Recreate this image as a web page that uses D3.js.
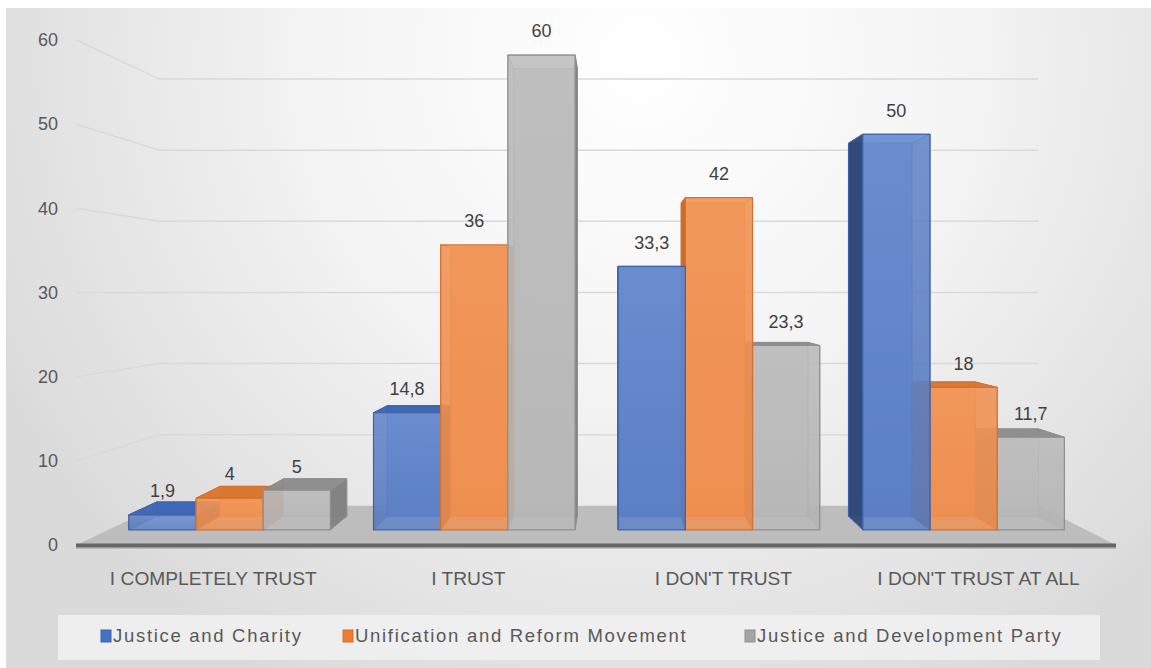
<!DOCTYPE html>
<html><head><meta charset="utf-8">
<script src="https://cdn.jsdelivr.net/npm/d3@7"></script>
<style>body{margin:0;background:#fff;} svg{display:block;}</style>
</head><body>
<svg id="chart" width="1151" height="668"></svg>
<script>
// ---- data ----
const categories = ["I COMPLETELY TRUST", "I TRUST", "I DON'T TRUST", "I DON'T TRUST AT ALL"];
const seriesNames = ["Justice and Charity", "Unification and Reform Movement", "Justice and Development Party"];
const justiceCharity = [1.9, 14.8, 33.3, 50];
const unificationReform = [4, 36, 42, 18];
const justiceDevelopment = [5, 60, 23.3, 11.7];
const yTicks = [0, 10, 20, 30, 40, 50, 60];
const seriesValues = [justiceCharity, unificationReform, justiceDevelopment];

const palette = [
  {front:"#5b7fc6", frontTop:"#6d90d3", side:"#2d4775", top:"#3d66b6", back:"#4c71ba", stroke:"#3e62a8", swatch:"#4472c4"},
  {front:"#f0904f", frontTop:"#f49a5c", side:"#c9672a", top:"#d9752f", back:"#e2803f", stroke:"#d4712f", swatch:"#ed7d31"},
  {front:"#b9b9b9", frontTop:"#c2c2c2", side:"#7f7f7f", top:"#8c8c8c", back:"#a9a9a9", stroke:"#8f8f8f", swatch:"#a5a5a5"}
];

const svg = d3.select("#chart");
const W = 1151, H = 668;

// background
const defs = svg.append("defs");
const rg = defs.append("radialGradient").attr("id","bg").attr("gradientUnits","userSpaceOnUse")
  .attr("cx",640).attr("cy",60).attr("r",720);
rg.append("stop").attr("offset",0).attr("stop-color","#ffffff");
rg.append("stop").attr("offset",0.45).attr("stop-color","#f4f4f4");
rg.append("stop").attr("offset",1).attr("stop-color","#dadada");
svg.append("rect").attr("x",6).attr("y",8).attr("width",W-6).attr("height",H-8).attr("fill","url(#bg)");

palette.forEach((p,i)=>{
  const lg = defs.append("linearGradient").attr("id","fg"+i).attr("x1",0).attr("y1",0).attr("x2",0).attr("y2",1);
  lg.append("stop").attr("offset",0).attr("stop-color",p.frontTop);
  lg.append("stop").attr("offset",1).attr("stop-color",p.front);
});

// ---- scales & projection ----
const VP = {x: 614, y: 292};
const S_FRONT = 1, S_BACK = 0.845, B_FRONT = 0.94, B_BACK = 0.886;
const x0 = d3.scaleBand().domain(categories).range([75, 1116]).paddingInner(0.176).paddingOuter(0.088);
const x1 = d3.scaleBand().domain(seriesNames).range([0, x0.bandwidth()]);
const y = d3.scaleLinear().domain([0, 60]).range([545, 40]);
const proj = (X, Y, s) => [VP.x + s*(X - VP.x), VP.y + s*(Y - VP.y)];
const poly = pts => "M" + pts.map(p => p[0].toFixed(2)+","+p[1].toFixed(2)).join("L") + "Z";

const XL = 76, XR = 1116;

// gridlines (side wall + back wall)
const grid = svg.append("g");
yTicks.filter(t => t > 0).forEach(t => {
  const a = proj(XL, y(t), S_FRONT), b = proj(XL, y(t), S_BACK), c = proj(XR, y(t), S_BACK);
  grid.append("path").attr("d", `M${a[0]},${a[1]}L${b[0]},${b[1]}L${c[0]},${c[1]}`)
    .attr("fill","none").attr("stroke","#d9d9d9").attr("stroke-width",1.5);
});

// y axis labels
svg.append("g").selectAll("text").data(yTicks).join("text")
  .attr("x", 58).attr("y", d => y(d)).attr("dy","0.35em")
  .attr("text-anchor","end").attr("font-family","Liberation Sans, Arial, sans-serif")
  .attr("font-size",18).attr("fill","#595959").text(d => d);

// floor
svg.append("path").attr("d", poly([proj(XL,y(0),S_FRONT), proj(XR,y(0),S_FRONT), proj(XR,y(0),S_BACK), proj(XL,y(0),S_BACK)]))
  .attr("fill","#bdbdbd");
svg.append("rect").attr("x",XL).attr("y",y(0)-1.5).attr("width",XR-XL).attr("height",3.5).attr("fill","#666666");
svg.append("rect").attr("x",XL).attr("y",y(0)+2).attr("width",XR-XL).attr("height",1.5).attr("fill","#9a9a9a");

// ---- bars ----
const bars = [];
categories.forEach((c, ci) => {
  seriesNames.forEach((s, si) => {
    const X0 = x0(c) + x1(s), X1 = X0 + x1.bandwidth();
    bars.push({ci, si, v: seriesValues[si][ci], X0, X1, dist: Math.abs((X0+X1)/2 - VP.x)});
  });
});
bars.sort((a,b) => b.dist - a.dist);

const barG = svg.append("g");
bars.forEach(b => {
  const p = palette[b.si];
  const Yt = y(b.v), Yb = y(0);
  const F = s => [proj(b.X0,Yt,s), proj(b.X1,Yt,s), proj(b.X1,Yb,s), proj(b.X0,Yb,s)];
  const fr = F(B_FRONT), bk = F(B_BACK);
  const left = [fr[0], bk[0], bk[3], fr[3]];
  const right = [fr[1], bk[1], bk[2], fr[2]];
  const top = [fr[0], fr[1], bk[1], bk[0]];
  const g = barG.append("g");
  const face = (pts, fill, op, sw) => g.append("path").attr("d", poly(pts)).attr("fill", fill)
      .attr("fill-opacity", op).attr("stroke", p.stroke).attr("stroke-width", sw).attr("stroke-linejoin","round");
  const rightVisible = b.X1 < VP.x, leftVisible = b.X0 > VP.x;
  const topVisible = Yt > VP.y;
  face(bk, p.back, 0.9, 1);
  if (!rightVisible) face(right, p.side, 0.5, 0.8);
  if (!leftVisible) face(left, p.side, 0.5, 0.8);
  if (!topVisible) face(top, p.frontTop, 0.7, 1);
  if (rightVisible) face(right, p.side, 0.92, 1);
  if (leftVisible) face(left, p.side, 0.92, 1);
  if (topVisible) face(top, p.top, 0.92, 1);
  face(fr, `url(#fg${b.si})`, 0.82, 1.2);
});

// value labels
const fmt = v => String(v).replace(".", ",");
svg.append("g").selectAll("text").data(bars).join("text")
  .attr("x", d => proj((d.X0+d.X1)/2, y(d.v), B_FRONT)[0])
  .attr("y", d => proj((d.X0+d.X1)/2, y(d.v), B_FRONT)[1] - 24)
  .attr("dy","0.35em").attr("text-anchor","middle")
  .attr("font-family","Liberation Sans, Arial, sans-serif").attr("font-size",18)
  .attr("fill","#404040").text(d => fmt(d.v));

// category labels
svg.append("g").selectAll("text").data(categories).join("text")
  .attr("x", d => proj(x0(d) + x0.bandwidth()/2, y(0), 0.98)[0])
  .attr("y", 578).attr("dy","0.35em").attr("text-anchor","middle")
  .attr("font-family","Liberation Sans, Arial, sans-serif").attr("font-size",19.2)
  .attr("fill","#595959").text(d => d);

// legend
svg.append("rect").attr("x",58).attr("y",615).attr("width",1042).attr("height",45).attr("fill","#f1f1f1").attr("fill-opacity",0.85);
const legendX = [101, 343, 745];
const lg = svg.append("g").selectAll("g").data(seriesNames).join("g")
  .attr("transform", (d,i) => `translate(${legendX[i]},630)`);
lg.append("rect").attr("width",10).attr("height",12).attr("fill",(d,i)=>palette[i].swatch)
  .attr("stroke",(d,i)=>palette[i].stroke).attr("stroke-width",1);
lg.append("text").attr("x",12).attr("y",6).attr("dy","0.35em")
  .attr("font-family","Liberation Sans, Arial, sans-serif").attr("font-size",18.5)
  .attr("letter-spacing",1.7).attr("fill","#595959").text(d => d);
</script>
</body></html>
